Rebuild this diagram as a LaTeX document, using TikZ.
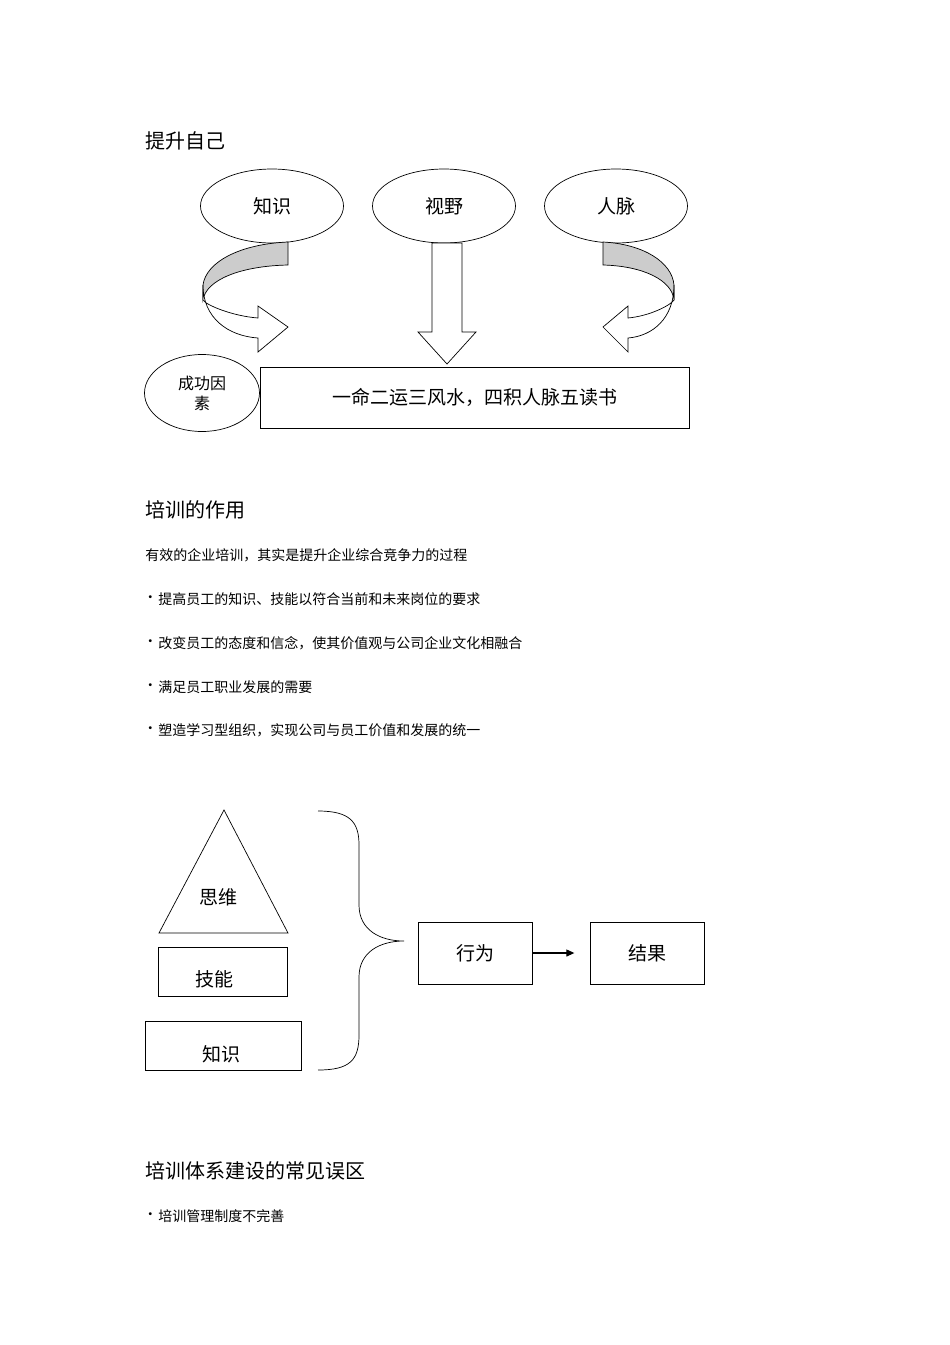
\documentclass[tikz,border=0pt]{standalone}
\usepackage{fontspec}
\setmainfont{Noto Sans CJK SC}
\usetikzlibrary{shapes.geometric,arrows.meta}
\begin{document}
\begin{tikzpicture}[x=1pt,y=-1pt,line width=0.7pt,
  title/.style={anchor=west,inner sep=0,font=\fontsize{20}{20}\selectfont},
  body/.style={anchor=west,inner sep=0,font=\fontsize{14}{14}\selectfont},
  ell/.style={draw,ellipse,minimum width=143,minimum height=74,font=\fontsize{19}{19}\selectfont},
  box/.style={draw,font=\fontsize{19}{19}\selectfont}]
\useasboundingbox (0,0) rectangle (950,1345);
\node[title] (t1) at (145,141) {提升自己};
\node[ell] (zs) at (272,206) {知识};
\node[ell] (sy) at (444,206) {视野};
\node[ell] (rm) at (616,206) {人脉};
% left curved arrow
\draw[fill=gray!40] (288,242) -- (288,265) .. controls (240,266) and (206,280) .. (203,300) -- (203,285) .. controls (206,262) and (240,244) .. (288,242) -- cycle;
\draw[fill=white] (203,285) .. controls (203,318) and (228,336) .. (258,338) -- (258,352) -- (288,327) -- (258,306) -- (258,318) .. controls (232,316) and (206,305) .. (203,300) -- cycle;
% right curved arrow
\draw[fill=gray!40] (603,242) -- (603,265) .. controls (643,266) and (672,280) .. (674,300) -- (674,285) .. controls (672,262) and (643,244) .. (603,242) -- cycle;
\draw[fill=white] (674,285) .. controls (674,318) and (653,336) .. (628,338) -- (628,352) -- (603,327) -- (628,306) -- (628,318) .. controls (650,316) and (671,305) .. (674,300) -- cycle;
% down arrow
\draw[fill=white] (432,243) -- (462,243) -- (462,332) -- (476,332) -- (447,364) -- (418,332) -- (432,332) -- cycle;
\node[draw,ellipse,minimum width=115,minimum height=77,align=center,font=\fontsize{16}{20}\selectfont] (cg) at (202,393) {成功因\\素};
\node[box,minimum width=429,minimum height=61] (yb) at (474.5,397.5) {一命二运三风水，四积人脉五读书};
\node[title] (t2) at (145,510) {培训的作用};
\node[body] (p0) at (145,555) {有效的企业培训，其实是提升企业综合竞争力的过程};
\foreach \y/\t [count=\i] in {599/提高员工的知识、技能以符合当前和未来岗位的要求,643/改变员工的态度和信念，使其价值观与公司企业文化相融合,687/满足员工职业发展的需要,730/塑造学习型组织，实现公司与员工价值和发展的统一}{
  \node[body] (d\i) at (143,\y) {·};
  \node[body] (b\i) at (158,\y) {\t};}
\draw (224,810) -- (288,933) -- (159,933) -- cycle;
\node[font=\fontsize{19}{19}\selectfont] (swt) at (218,897) {思维};
\node[box,minimum width=129,minimum height=49] (jn) at (223,972) {};
\node[font=\fontsize{19}{19}\selectfont] (jnt) at (214,979) {技能};
\node[box,minimum width=156,minimum height=49] (zs2) at (223,1046) {};
\node[font=\fontsize{19}{19}\selectfont] (zst) at (221,1054) {知识};
\coordinate (bt) at (318,811);
\coordinate (bb) at (318,1070);
\coordinate (bm) at (404,941);
\draw (bt) .. controls (350,811) and (359,822) .. (359,845) -- (359,905) .. controls (359,930) and (380,941) .. (bm) .. controls (380,941) and (359,952) .. (359,977) -- (359,1035) .. controls (359,1060) and (350,1070) .. (bb);
\node[box,minimum width=114,minimum height=62] (xw) at (475,953) {行为};
\node[box,minimum width=114,minimum height=62] (jg) at (647,953) {结果};
\draw[-{Triangle[length=8pt,width=7pt]},line width=1.1pt] (xw.east) -- ++(42,0) coordinate (ae);
\node[title] (t3) at (145,1171) {培训体系建设的常见误区};
\node[body] (d5) at (143,1216) {·};
\node[body] (b5) at (158,1216) {培训管理制度不完善};
\end{tikzpicture}
\end{document}
